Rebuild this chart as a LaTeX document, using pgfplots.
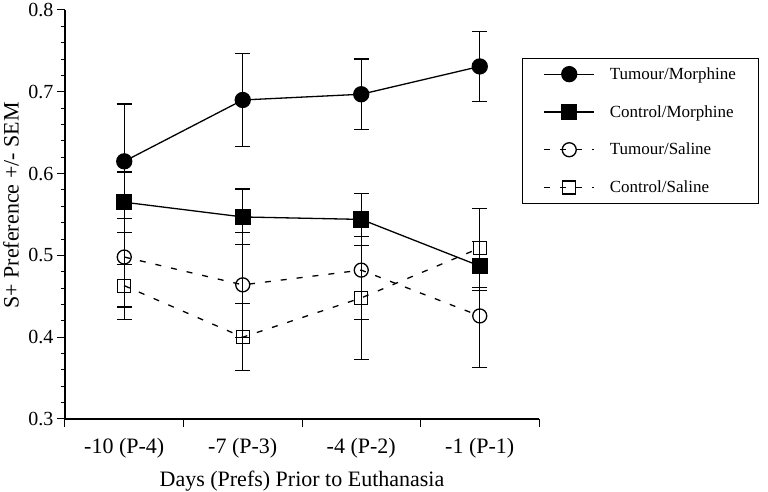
\documentclass[border=0pt]{standalone}
\usepackage{fontspec}
\setmainfont{Liberation Serif}
\usepackage{pgfplots}
\pgfplotsset{compat=1.18}

\begin{document}
\begin{tikzpicture}
\path[use as bounding box] (-65pt,-73pt) rectangle (703pt,419pt);
\begin{axis}[
    scale only axis,
    width=474pt, height=409pt,
    xmin=0, xmax=4, ymin=0.3, ymax=0.8,
    axis lines*=left,
    axis line style={-, line width=1.3pt},
    tick align=outside,
    major tick length=8pt, minor tick length=4pt,
    every tick/.style={black, line width=1pt},
    ytick={0.3,0.4,0.5,0.6,0.7,0.8},
    yticklabels={0.3,0.4,0.5,0.6,0.7,0.8},
    minor y tick num=4,
    yticklabel style={font=\fontsize{20}{24}\selectfont},
    xtick={0,1,2,3,4},
    xticklabels={},
    extra x ticks={0.5,1.5,2.5,3.5},
    extra x tick labels={-10 (P-4),-7 (P-3),-4 (P-2),-1 (P-1)},
    extra x tick style={major tick length=0pt,
        xticklabel style={font=\fontsize{22}{26}\selectfont, anchor=base, yshift=-35pt}},
    xlabel={Days (Prefs) Prior to Euthanasia},
    xlabel style={font=\fontsize{22}{26}\selectfont, at={(axis description cs:0.5,0)}, anchor=base, yshift=-67pt},
    ylabel={S+ Preference +/- SEM},
    ylabel style={font=\fontsize{22}{26}\selectfont, at={(axis description cs:0,0.522)}, anchor=center, yshift=54pt},
    clip=false,
    legend style={at={(rel axis cs:0.964,0.883)}, anchor=north west,
        draw=black, line width=1.3pt, font=\fontsize{17}{20}\selectfont,
        inner xsep=21pt, inner ysep=7pt, row sep=20.5pt, column sep=13pt,
        cells={anchor=west},
        every even column/.append style={text width=132pt}},
    legend image code/.code={\draw[mark repeat=2,mark phase=2,#1] plot coordinates {(0pt,0pt)(25pt,0pt)(50pt,0pt)};},
    every axis plot/.append style={line width=1.3pt, black},
    error bars/error bar style={line width=1.3pt, solid, black},
    error bars/error mark options={rotate=90, mark size=7.5pt, line width=1.3pt, solid, black},
]
\addplot[mark=*, mark size=7.5pt, mark options={solid, fill=black}, error bars/.cd, y dir=both, y explicit]
coordinates {
    (0.5,0.615) +- (0,0.070)
    (1.5,0.690) +- (0,0.057)
    (2.5,0.697) +- (0,0.043)
    (3.5,0.731) +- (0,0.043)
};
\addlegendentry{Tumour/Morphine}
\addplot[mark=square*, mark size=7.5pt, mark options={solid, fill=black}, error bars/.cd, y dir=both, y explicit]
coordinates {
    (0.5,0.565) +- (0,0.037)
    (1.5,0.547) +- (0,0.034)
    (2.5,0.544) +- (0,0.032)
    (3.5,0.487) +- (0,0.030)
};
\addlegendentry{Control/Morphine}
\addplot[dash pattern=on 6pt off 10pt, mark=o, mark size=7pt, mark options={solid}, error bars/.cd, y dir=both, y explicit]
coordinates {
    (0.5,0.498) +- (0,0.076)
    (1.5,0.464) +- (0,0.064)
    (2.5,0.482) +- (0,0.060)
    (3.5,0.426) +- (0,0.063)
};
\addlegendentry{Tumour/Saline}
\addplot[dash pattern=on 6pt off 10pt, mark=square, mark size=6.5pt, mark options={solid}, error bars/.cd, y dir=both, y explicit]
coordinates {
    (0.5,0.463) +- (0,0.026)
    (1.5,0.400) +- (0,0.041)
    (2.5,0.448) +- (0,0.075)
    (3.5,0.509) +- (0,0.048)
};
\addlegendentry{Control/Saline}
\end{axis}
\end{tikzpicture}
\end{document}
